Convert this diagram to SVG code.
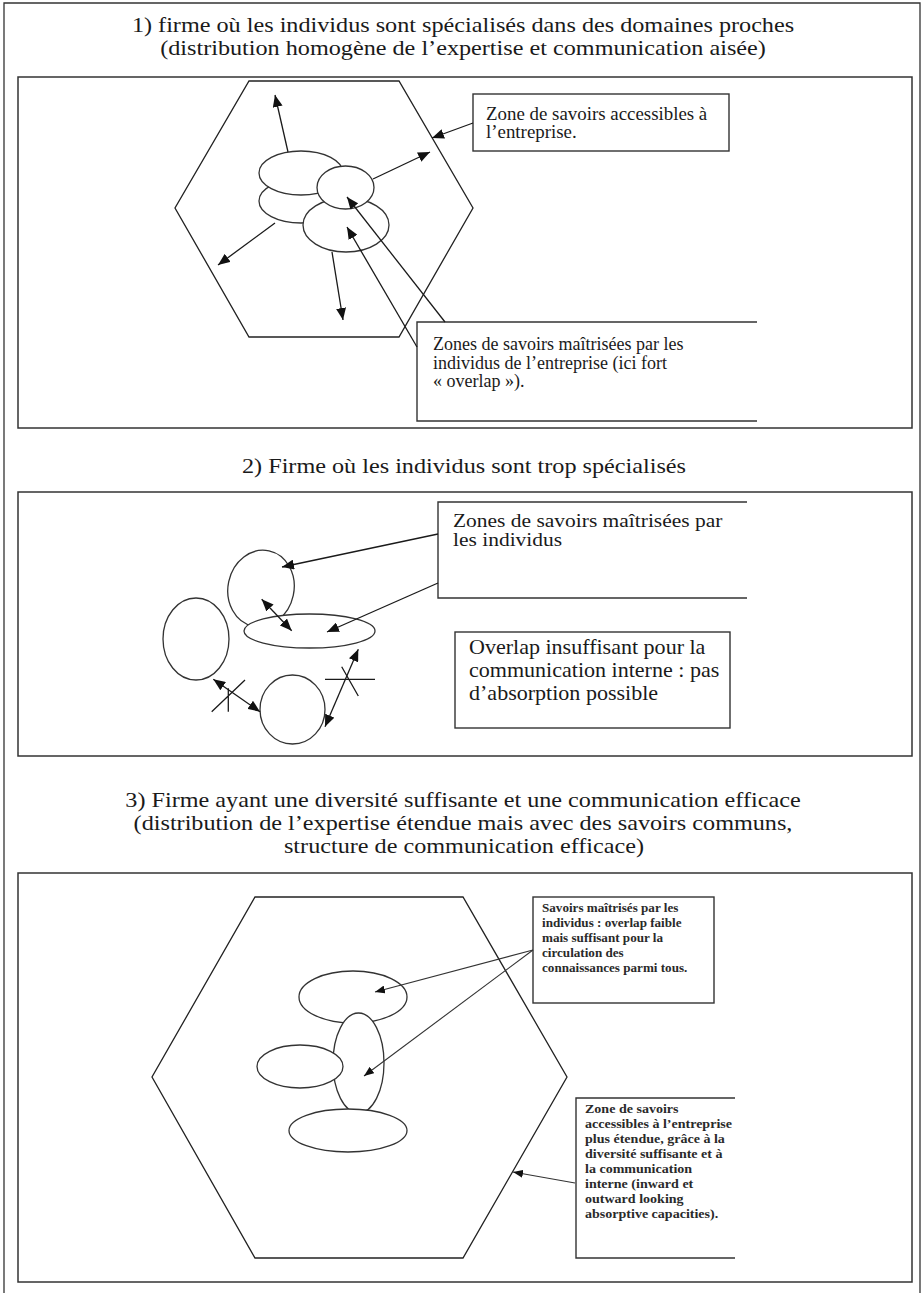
<svg xmlns="http://www.w3.org/2000/svg" width="924" height="1293" viewBox="0 0 924 1293">
<style>
.frame{fill:none;stroke:#333;stroke-width:1.3}
.panel{fill:#fff;stroke:#333;stroke-width:1.5}
.hex{fill:#fff;stroke:#222;stroke-width:1.3}
.ell{fill:#fff;stroke:#333;stroke-width:1.3}
.box{fill:#fff;stroke:#333;stroke-width:1.4}
.open{fill:#fff;stroke:#333;stroke-width:1.4}
.ln{fill:none;stroke:#1a1a1a;stroke-width:1.3}
.arr{fill:none;stroke:#1a1a1a;stroke-width:1.3;marker-end:url(#ah)}
.dbl{fill:none;stroke:#1a1a1a;stroke-width:1.3;marker-start:url(#ah);marker-end:url(#ah)}
.arrs{fill:none;stroke:#333;stroke-width:1.1;marker-end:url(#ahs)}
.serif{font-family:"Liberation Serif","Times New Roman",serif;fill:#1a1a1a}
.title{font-size:22px;text-anchor:middle}
.small{font-size:13px;font-weight:bold;fill:#2a2a2a}
</style>
<defs>
<marker id="ah" viewBox="0 0 12 10" refX="12" refY="5" markerWidth="12" markerHeight="10" markerUnits="userSpaceOnUse" orient="auto-start-reverse"><path d="M0,0 L12,5 L0,10 z" fill="#111"/></marker>
<marker id="ahs" viewBox="0 0 10 8" refX="10" refY="4" markerWidth="10" markerHeight="8" markerUnits="userSpaceOnUse" orient="auto"><path d="M0,0 L10,4 L0,8 z" fill="#111"/></marker>
</defs>
<rect x="0" y="0" width="924" height="1293" fill="#fff"/>
<path class="frame" d="M4,1296 V3 H920 V1296"/>

<g id="titles" class="serif title">
<g transform="translate(463,32) scale(1.1,1)"><text x="0" y="0">1) firme où les individus sont spécialisés dans des domaines proches</text></g>
<g transform="translate(463,55) scale(1.1,1)"><text x="0" y="0">(distribution homogène de l’expertise et communication aisée)</text></g>
<g transform="translate(464,473) scale(1.1,1)"><text x="0" y="0">2) Firme où les individus sont trop spécialisés</text></g>
<g transform="translate(463,807) scale(1.1,1)"><text x="0" y="0">3) Firme ayant une diversité suffisante et une communication efficace</text></g>
<g transform="translate(463,830) scale(1.1,1)"><text x="0" y="0">(distribution de l’expertise étendue mais avec des savoirs communs,</text></g>
<g transform="translate(464,853) scale(1.1,1)"><text x="0" y="0">structure de communication efficace)</text></g>
</g>

<g id="panel1">
<rect class="panel" x="18" y="77" width="894" height="351"/>
<polygon class="hex" points="249,81 399,81 473,208 399,337 249,337 175,208"/>
<ellipse class="ell" cx="301" cy="201" rx="42" ry="22"/>
<ellipse class="ell" cx="301" cy="173" rx="42" ry="22"/>
<ellipse class="ell" cx="346" cy="225" rx="43" ry="27"/>
<ellipse class="ell" cx="345.5" cy="187.5" rx="28.5" ry="21.5"/>
</g>
<g id="p1-box-zone">
<rect class="box" x="473" y="94" width="256" height="57"/>
<g class="serif" font-size="18" transform="translate(486,0) scale(1.05,1)">
<text x="0" y="120">Zone de savoirs accessibles à</text>
<text x="0" y="138">l’entreprise.</text>
</g>
</g>
<g id="p1-box-zones">
<path class="open" d="M757,322 H417 V421 H757"/>
<g class="serif" font-size="18" transform="translate(433,0)">
<text x="0" y="350">Zones de savoirs maîtrisées par les</text>
<text x="0" y="369">individus de l’entreprise (ici fort</text>
<text x="0" y="387">« overlap »).</text>
</g>
</g>

<g id="panel2">
<rect class="panel" x="18" y="492" width="894" height="264"/>
<ellipse class="ell" cx="261" cy="588.5" rx="33" ry="38.5" transform="rotate(12,261,588.5)"/>
<ellipse class="ell" cx="309.5" cy="631" rx="65.5" ry="17"/>
<ellipse class="ell" cx="196" cy="639" rx="33" ry="41"/>
<ellipse class="ell" cx="292.5" cy="709.5" rx="32.5" ry="34.5"/>
</g>
<g id="p2-box-zones">
<path class="open" d="M747,502 H438 V598 H747"/>
<g class="serif" font-size="19" transform="translate(453,0) scale(1.13,1)">
<text x="0" y="527">Zones de savoirs maîtrisées par</text>
<text x="0" y="546">les individus</text>
</g>
</g>
<g id="p2-box-overlap">
<rect class="box" x="455" y="632" width="275" height="96"/>
<g class="serif" font-size="21" transform="translate(469,0) scale(1.05,1)">
<text x="0" y="654">Overlap insuffisant pour la</text>
<text x="0" y="677">communication interne : pas</text>
<text x="0" y="700">d’absorption possible</text>
</g>
</g>

<g id="panel3">
<rect class="panel" x="18" y="873" width="894" height="409"/>
<polygon class="hex" points="255,897 463,897 567,1077 463,1258 255,1258 152,1077"/>
<ellipse class="ell" cx="353" cy="997" rx="54" ry="26"/>
<ellipse class="ell" cx="358.5" cy="1063" rx="25.5" ry="50"/>
<ellipse class="ell" cx="300" cy="1066.5" rx="43" ry="21.5"/>
<ellipse class="ell" cx="348" cy="1130.5" rx="59" ry="21.5"/>
</g>
<g id="p3-box-savoirs">
<rect class="box" x="533" y="897" width="181" height="106"/>
<g class="serif small" transform="translate(542,0) scale(1.01,1)">
<text x="0" y="912">Savoirs maîtrisés par les</text>
<text x="0" y="927">individus : overlap faible</text>
<text x="0" y="942">mais suffisant pour la</text>
<text x="0" y="957">circulation des</text>
<text x="0" y="972">connaissances parmi tous.</text>
</g>
</g>
<g id="p3-box-zone">
<path class="open" d="M735,1098 H576 V1258 H735"/>
<g class="serif small" transform="translate(585,0) scale(1.08,1)">
<text x="0" y="1113">Zone de savoirs</text>
<text x="0" y="1128">accessibles à l’entreprise</text>
<text x="0" y="1143">plus étendue, grâce à la</text>
<text x="0" y="1158">diversité suffisante et à</text>
<text x="0" y="1173">la communication</text>
<text x="0" y="1188">interne (inward et</text>
<text x="0" y="1203">outward looking</text>
<text x="0" y="1218">absorptive capacities).</text>
</g>
</g>

<g id="connectors">
<path class="arr" d="M288,152 L275,95"/>
<path class="arr" d="M373,179 L430,152"/>
<path class="arr" d="M275,223 L218,265"/>
<path class="arr" d="M332,252 L343,320"/>
<path class="arr" d="M473,123 L432,138"/>
<path class="arr" d="M445,322 L347,197"/>
<path class="arr" d="M417,347 L347,227"/>

<path class="arr" d="M438,534 L282,567"/>
<path class="arr" d="M438,583 L327,632"/>
<path class="dbl" d="M261.7,599.3 L291.7,630.7"/>
<path class="dbl" d="M213.3,679.3 L260,711.7"/>
<path class="dbl" d="M325,726.7 L358.3,649.3"/>
<path class="ln" d="M211.7,711.7 L245,680 M228.3,688.3 L228.3,711.7"/>
<path class="ln" d="M325,679.3 L375,679.3 M341.7,666.7 L358.3,696"/>

<path class="arrs" d="M533,950 L375,992"/>
<path class="arrs" d="M533,950 L364,1076"/>
<path class="arrs" d="M575,1183 L513,1172"/>
</g>
</svg>
